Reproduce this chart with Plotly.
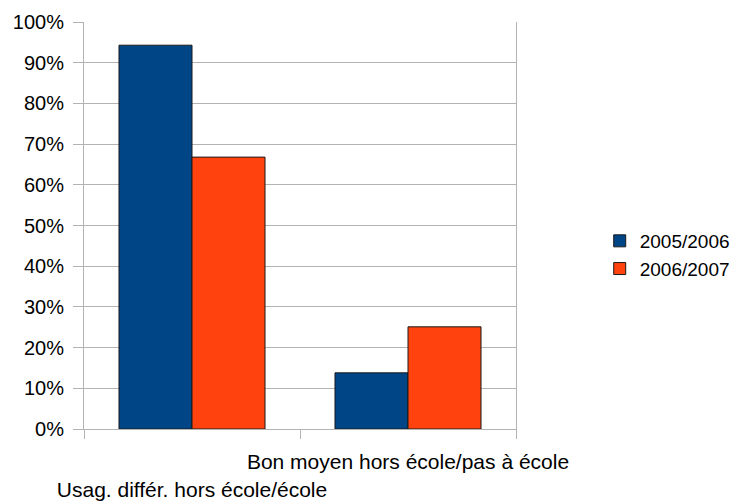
import plotly.graph_objects as go

categories = ["Usag. différ. hors école/école", "Bon moyen hors école/pas à école"]
tick_labels = ["<br>Usag. différ. hors école/école", "Bon moyen hors école/pas à école"]
series_names = ["2005/2006", "2006/2007"]
values_2005 = [0.943, 0.138]
values_2006 = [0.668, 0.251]
colors = ["#004586", "#ff420e"]

fig = go.Figure()
for name, vals, col in zip(series_names, [values_2005, values_2006], colors):
    fig.add_trace(go.Bar(
        x=categories, y=vals, name=name,
        marker=dict(color=col, line=dict(color="#1a1a1a", width=1)),
    ))

grid = "#b3b3b3"
fig.update_layout(
    width=749, height=501,
    margin=dict(l=76, r=241, t=14, b=80),
    paper_bgcolor="white", plot_bgcolor="white",
    barmode="group", bargap=0.324, bargroupgap=0,
    font=dict(family="Liberation Sans, Arial, sans-serif", size=20, color="#000000"),
    legend=dict(xref="container", yref="container", x=0.79, y=0.507,
                xanchor="left", yanchor="middle",
                font=dict(size=19), itemwidth=30, tracegroupgap=4),
    xaxis=dict(
        type="category", tickmode="array", tickvals=categories, ticktext=tick_labels,
        tickson="boundaries", ticks="outside", ticklen=9, tickcolor=grid,
        showline=True, linecolor=grid, showgrid=False,
        tickfont=dict(size=21), tickangle=0, automargin=False,
        ticklabelstandoff=14,
    ),
    yaxis=dict(
        range=[0, 1], dtick=0.1, tickformat=".0%",
        ticks="outside", ticklen=10, tickcolor=grid,
        showgrid=True, gridcolor=grid, zeroline=False,
        showline=True, mirror=True, linecolor=grid,
        tickfont=dict(size=20), automargin=False,
        ticklabelstandoff=5,
    ),
)

fig.write_html("out.html")
